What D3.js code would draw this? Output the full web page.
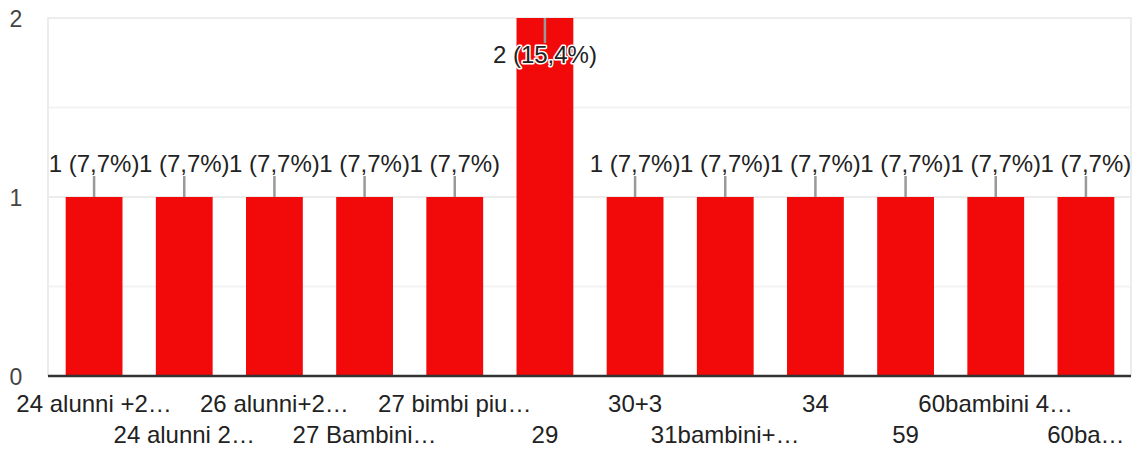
<!DOCTYPE html>
<html><head><meta charset="utf-8">
<script src="https://cdn.jsdelivr.net/npm/d3@7"></script>
<style>body{margin:0;background:#fff;} svg{display:block;font-family:Arial,"Liberation Sans",sans-serif;}</style>
</head><body>
<svg id="c" width="1139" height="453"></svg>
<script>
const categories = ["24 alunni +2…","24 alunni 2…","26 alunni+2…","27 Bambini…","27 bimbi piu…","29","30+3","31bambini+…","34","59","60bambini 4…","60ba…"];
const values = [1,1,1,1,1,2,1,1,1,1,1,1];
const percents = ["7,7%","7,7%","7,7%","7,7%","7,7%","15,4%","7,7%","7,7%","7,7%","7,7%","7,7%","7,7%"];
const yTicks = [0,1,2];

(function(){
const svg = d3.select("#c");
const pl = 48, pr = 1131, pt = 18, pb = 376;
const fs = 24;
const x = d3.scaleBand().domain(categories).range([pl+1, pr]).paddingInner(0.37).paddingOuter(0.185);
const y = d3.scaleLinear().domain([0,2]).range([pb, pt]);

svg.append("g").selectAll("line").data([0.5,1.5]).join("line")
  .attr("x1",pl).attr("x2",pr).attr("y1",d=>y(d)).attr("y2",d=>y(d))
  .attr("stroke","#f3f3f3").attr("stroke-width",2);
svg.append("g").selectAll("line").data(yTicks.filter(d=>d>0)).join("line")
  .attr("x1",pl).attr("x2",pr).attr("y1",d=>y(d)).attr("y2",d=>y(d))
  .attr("stroke","#ececec").attr("stroke-width",2);
svg.append("line").attr("x1",pl).attr("x2",pl).attr("y1",pt-1).attr("y2",pb).attr("stroke","#ececec").attr("stroke-width",2);
svg.append("line").attr("x1",pr).attr("x2",pr).attr("y1",pt-1).attr("y2",pb).attr("stroke","#ececec").attr("stroke-width",2);

svg.append("g").selectAll("text").data(yTicks).join("text")
  .attr("x",16).attr("y",d=>y(d)+9).attr("text-anchor","middle")
  .attr("font-size",23).attr("fill","#444").text(d=>d);

svg.append("g").selectAll("rect").data(values).join("rect")
  .attr("x",(d,i)=>x(categories[i])).attr("width",x.bandwidth())
  .attr("y",d=>y(d)).attr("height",d=>y(0)-y(d)).attr("fill","#f20a0a");

svg.append("line").attr("x1",pl).attr("x2",pr).attr("y1",pb).attr("y2",pb).attr("stroke","#333").attr("stroke-width",2.5);

svg.append("g").selectAll("text").data(categories).join("text")
  .attr("x",d=>x(d)+x.bandwidth()/2).attr("y",(d,i)=> i%2===0 ? 412 : 443)
  .attr("text-anchor","middle").attr("font-size",fs).attr("fill","#222").text(d=>d);

const lab = svg.append("g");
values.forEach((v,i)=>{
  const cx = x(categories[i])+x.bandwidth()/2;
  const txt = v + " (" + percents[i] + ")";
  if (v === d3.max(values)) {
    lab.append("line").attr("x1",cx).attr("x2",cx).attr("y1",y(v)).attr("y2",y(v)+25).attr("stroke","#999").attr("stroke-width",2.5);
    lab.append("text").attr("x",cx).attr("y",y(v)+45).attr("text-anchor","middle").attr("font-size",fs)
      .attr("fill","#222").attr("stroke","#fff").attr("stroke-width",3).attr("paint-order","stroke").attr("stroke-linejoin","round").text(txt);
  } else {
    lab.append("line").attr("x1",cx).attr("x2",cx).attr("y1",y(v)-21).attr("y2",y(v)).attr("stroke","#999").attr("stroke-width",2.5);
    lab.append("text").attr("x",cx).attr("y",y(v)-25).attr("text-anchor","middle").attr("font-size",fs)
      .attr("fill","#222").text(txt);
  }
});
})();
</script>
</body></html>
